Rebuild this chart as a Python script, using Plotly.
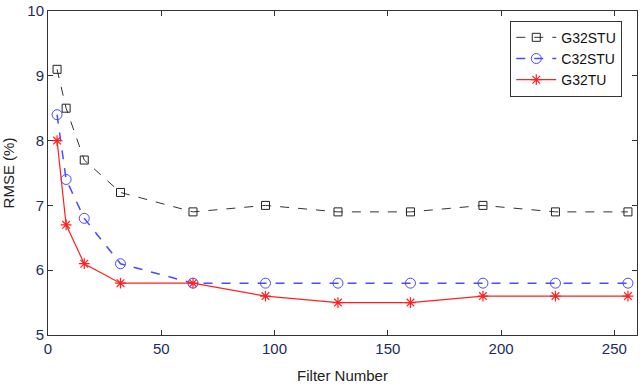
import plotly.graph_objects as go

filters = [4, 8, 16, 32, 64, 96, 128, 160, 192, 224, 256]
g32stu = [9.1, 8.5, 7.7, 7.2, 6.9, 7.0, 6.9, 6.9, 7.0, 6.9, 6.9]
c32stu = [8.4, 7.4, 6.8, 6.1, 5.8, 5.8, 5.8, 5.8, 5.8, 5.8, 5.8]
g32tu = [8.0, 6.7, 6.1, 5.8, 5.8, 5.6, 5.5, 5.5, 5.6, 5.6, 5.6]
x_ticks = [0, 50, 100, 150, 200, 250]
y_ticks = [5, 6, 7, 8, 9, 10]

fig = go.Figure()
fig.add_trace(go.Scatter(
    x=filters, y=g32stu, name="G32STU", mode="lines+markers",
    line=dict(color="#333333", width=1, dash="dash"),
    marker=dict(symbol="square-open", size=8, color="#222222", line=dict(width=1)),
))
fig.add_trace(go.Scatter(
    x=filters, y=c32stu, name="C32STU", mode="lines+markers",
    line=dict(color="#4a4aff", width=1.5, dash="dash"),
    marker=dict(symbol="circle-open", size=10, color="#4a4aff", line=dict(width=1)),
))
fig.add_trace(go.Scatter(
    x=filters, y=g32tu, name="G32TU", mode="lines+markers",
    line=dict(color="#ff2020", width=1.2),
    marker=dict(symbol="asterisk-open", size=9, color="#ff2020", line=dict(width=1.2, color="#ff2020")),
))

axis_common = dict(
    showgrid=False, zeroline=False, showline=True, linecolor="#333333", linewidth=1,
    mirror="ticks", ticks="inside", ticklen=5, tickcolor="#333333",
    ticklabeloverflow="allow",
    tickfont=dict(family="Liberation Sans, Arial", size=15, color="#1c2b5a"),
)
fig.update_xaxes(range=[0, 260], tickvals=x_ticks, title=dict(text="Filter Number",
                 font=dict(family="Liberation Sans, Arial", size=15, color="#222222"), standoff=14),
                 **axis_common)
fig.update_yaxes(range=[5, 10], tickvals=y_ticks, title=dict(text="RMSE (%)",
                 font=dict(family="Liberation Sans, Arial", size=15, color="#222222"), standoff=12),
                 **axis_common)

fig.update_layout(
    width=640, height=384,
    margin=dict(l=48, r=2, t=7, b=49),
    plot_bgcolor="white", paper_bgcolor="white",
    legend=dict(x=0.975, y=0.97, xanchor="right", yanchor="top",
                bordercolor="#333333", borderwidth=1, bgcolor="white",
                font=dict(family="Liberation Sans, Arial", size=14, color="#111111"),
                itemwidth=40, tracegroupgap=0),
)

fig.write_html("out.html", config={"displayModeBar": False},
               post_script="document.body.style.margin='0';document.body.style.overflow='hidden';")
